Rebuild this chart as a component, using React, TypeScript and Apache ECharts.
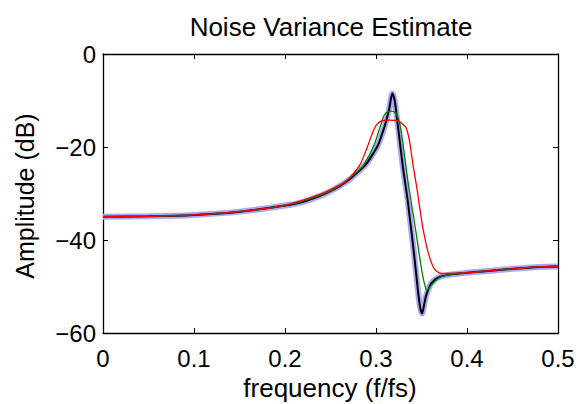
import React, { useEffect, useRef } from "react";
import * as echarts from "echarts";

const FONT = "'Liberation Sans', Arial, Helvetica, sans-serif";

const titleText = "Noise Variance Estimate";
const xName = "frequency (f/fs)";
const yName = "Amplitude (dB)";

const xTicks = [0, 0.1, 0.2, 0.3, 0.4, 0.5];
const yTicks = [-60, -40, -20, 0];

// True response (black, with light-blue halo)
const trueFreq = [0, 0.05, 0.1, 0.15, 0.2, 0.22, 0.24, 0.25, 0.26, 0.27, 0.28, 0.2894, 0.295, 0.3022, 0.306, 0.3103, 0.3145, 0.318, 0.3205, 0.3224, 0.326, 0.3297, 0.3345, 0.337, 0.3407, 0.3443, 0.3462, 0.3485, 0.3506, 0.353, 0.3553, 0.3608, 0.3681, 0.3791, 0.3974, 0.42, 0.45, 0.48, 0.5];
const trueDb = [-35.0, -34.9, -34.6, -33.9, -32.6, -31.8, -30.4, -29.5, -28.4, -27.1, -25.4, -23.6, -22.0, -19.6, -17.6, -15.0, -11.8, -8.5, -10.0, -12.8, -18.5, -24.5, -31.0, -35.0, -41.1, -47.5, -51.1, -54.5, -55.8, -53.8, -51.8, -49.3, -48.1, -47.5, -47.1, -46.7, -46.2, -45.8, -45.7];

// Green estimate
const greenFreq = [0, 0.05, 0.1, 0.15, 0.2, 0.24, 0.26, 0.28, 0.2865, 0.2978, 0.3052, 0.3096, 0.3169, 0.321, 0.324, 0.3271, 0.3308, 0.3345, 0.338, 0.3444, 0.3499, 0.3535, 0.3561, 0.3608, 0.3681, 0.3791, 0.3974, 0.42, 0.45, 0.48, 0.5];
const greenDb = [-35.0, -34.9, -34.6, -33.9, -32.6, -30.3, -28.3, -25.2, -23.9, -19.6, -15.3, -13.0, -12.3, -12.6, -13.6, -16.0, -21.0, -26.5, -31.0, -38.9, -46.1, -49.6, -50.8, -49.7, -48.3, -47.5, -47.1, -46.7, -46.2, -45.8, -45.7];

// Red estimate
const redFreq = [0, 0.05, 0.1, 0.15, 0.2, 0.24, 0.26, 0.2674, 0.2821, 0.2912, 0.2967, 0.3004, 0.306, 0.315, 0.322, 0.326, 0.33, 0.3334, 0.337, 0.3407, 0.3444, 0.3473, 0.3516, 0.3571, 0.3626, 0.367, 0.3718, 0.3974, 0.42, 0.45, 0.48, 0.5];
const redDb = [-35.0, -34.9, -34.6, -33.9, -32.5, -30.1, -28.2, -27.4, -23.9, -19.6, -16.7, -15.3, -14.4, -14.2, -14.3, -14.6, -15.2, -16.0, -18.9, -23.9, -28.2, -32.0, -37.5, -42.5, -45.7, -46.8, -47.2, -47.1, -46.7, -46.2, -45.8, -45.7];

const zip = (xs: number[], ys: number[]) => xs.map((x, i) => [x, ys[i]]);
const minus = (v: number) => String(v).replace("-", "\u2212");

export default function App() {
  const ref = useRef<HTMLDivElement>(null);
  useEffect(() => {
    if (!ref.current) return;
    const chart = echarts.init(ref.current, null, { renderer: "svg" });
    const axisCommon = {
      axisLine: { show: true, onZero: false, lineStyle: { color: "#000", width: 1.3 } },
      axisTick: { show: true, inside: true, length: 5, lineStyle: { color: "#000", width: 1 } },
      splitLine: { show: false },
    };
    chart.setOption({
      animation: false,
      backgroundColor: "#fff",
      grid: { left: 103, right: 20, top: 54, bottom: 71, containLabel: false, outerBoundsMode: "none" },
      xAxis: [
        {
          type: "value", min: xTicks[0], max: xTicks[xTicks.length - 1], interval: 0.1,
          position: "bottom", ...axisCommon,
          axisLabel: { color: "#000", fontSize: 24, fontFamily: FONT, margin: 13, formatter: (v: number) => String(v) },
        },
        {
          type: "value", min: xTicks[0], max: xTicks[xTicks.length - 1], interval: 0.1,
          position: "top", ...axisCommon, axisLabel: { show: false },
        },
      ],
      yAxis: [
        {
          type: "value", min: yTicks[0], max: yTicks[yTicks.length - 1], interval: 20,
          position: "left", ...axisCommon,
          axisLabel: { color: "#000", fontSize: 24, fontFamily: FONT, margin: 7, formatter: minus },
        },
        {
          type: "value", min: yTicks[0], max: yTicks[yTicks.length - 1], interval: 20,
          position: "right", ...axisCommon, axisLabel: { show: false },
        },
      ],
      series: [
        {
          type: "line", data: zip(trueFreq, trueDb), showSymbol: false, smooth: 0.3,
          lineStyle: { color: "#a9a9f7", width: 6 }, z: 1,
        },
        {
          type: "line", data: zip(trueFreq, trueDb), showSymbol: false, smooth: 0.3,
          lineStyle: { color: "#000", width: 2 }, z: 2,
        },
        {
          type: "line", data: zip(greenFreq, greenDb), showSymbol: false, smooth: 0.3,
          lineStyle: { color: "#008000", width: 1.3 }, z: 3,
        },
        {
          type: "line", data: zip(redFreq, redDb), showSymbol: false, smooth: 0.3,
          lineStyle: { color: "#ff0000", width: 1.3 }, z: 4,
        },
      ],
      graphic: [
        {
          type: "text", x: 331, y: 27,
          style: { text: titleText, fill: "#000", font: `26px ${FONT}`, textAlign: "center", textVerticalAlign: "middle" },
        },
        {
          type: "text", x: 330, y: 388,
          style: { text: xName, fill: "#000", font: `26px ${FONT}`, textAlign: "center", textVerticalAlign: "middle" },
        },
        {
          type: "text", x: 25, y: 196, rotation: Math.PI / 2,
          style: { text: yName, fill: "#000", font: `25px ${FONT}`, textAlign: "center", textVerticalAlign: "middle" },
        },
      ],
    });
    return () => chart.dispose();
  }, []);
  return <div ref={ref} style={{ width: 578, height: 404, position: "absolute", left: 0, top: 0 }} />;
}
